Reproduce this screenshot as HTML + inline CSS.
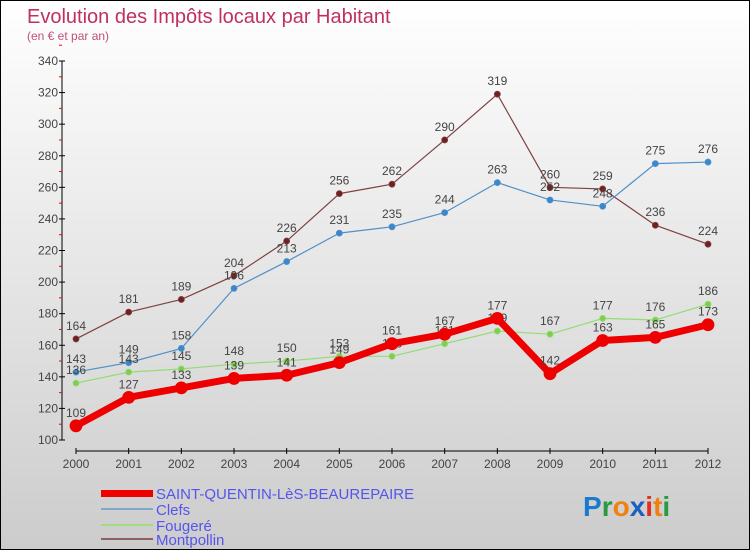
<!DOCTYPE html>
<html><head><meta charset="utf-8"><style>
body{margin:0}
#c{width:748px;height:548px;border:1px solid #000;background:linear-gradient(#fff,#ccc);position:relative;font-family:"Liberation Sans",sans-serif;overflow:hidden}
</style></head><body>
<div id="c">
<svg id="s" width="748" height="548" style="position:absolute;left:0;top:0">
<text x="26" y="22" font-size="20" fill="#c0305f">Evolution des Impôts locaux par Habitant</text>
<text x="26" y="39" font-size="12" fill="#c0507a">(en € et par an)</text>
<g id="axes"></g><g id="series"></g>
<g font-size="15" fill="#5555ee">
<rect x="100" y="489" width="52" height="7" fill="#ee0000"/>
<text x="155" y="498">SAINT-QUENTIN-LèS-BEAUREPAIRE</text>
<rect x="100" y="507" width="52" height="2" fill="#80a8cc"/>
<text x="155" y="514">Clefs</text>
<rect x="100" y="523" width="52" height="2" fill="#a0dd80"/>
<text x="155" y="530">Fougeré</text>
<rect x="100" y="537" width="52" height="2" fill="#906060"/>
<text x="155" y="544">Montpollin</text>
</g>
<text x="582" y="515" font-size="28" font-weight="bold"><tspan fill="#1a7ad0">P</tspan><tspan fill="#2a9a40">r</tspan><tspan fill="#f08010">o</tspan><tspan fill="#1a60c0">x</tspan><tspan fill="#e03020">i</tspan><tspan fill="#f08010">t</tspan><tspan fill="#2a9a40">i</tspan></text>
</svg></div>
<script>
const years=["2000","2001","2002","2003","2004","2005","2006","2007","2008","2009","2010","2011","2012"];
const yTicks=[100,120,140,160,180,200,220,240,260,280,300,320,340];
const sq=[109,127,133,139,141,149,161,167,177,142,163,165,173];
const clefs=[143,149,158,196,213,231,235,244,263,252,248,275,276];
const fougere=[136,143,145,148,150,153,153,161,169,167,177,176,186];
const montpollin=[164,181,189,204,226,256,262,290,319,260,259,236,224];
const NS="http://www.w3.org/2000/svg";
const xs=i=>75+i*(632/(years.length-1));
const ys=v=>439-(v-100)*(379/240);
function mk(t,a,p){const e=document.createElementNS(NS,t);for(const k in a)e.setAttribute(k,a[k]);p.appendChild(e);return e;}
const ax=document.getElementById('axes');
let yl=mk('line',{x1:61,y1:ys(340),x2:61,y2:ys(100),stroke:'#000'},ax);


yTicks.forEach(v=>{
 mk('line',{x1:58,x2:64,y1:ys(v),y2:ys(v),stroke:'#000'},ax);
 mk('line',{x1:58,x2:61,y1:ys(v+10),y2:ys(v+10),stroke:'#f00'},ax);
 const t=mk('text',{x:57,y:ys(v)+4,'text-anchor':'end','font-size':12,fill:'#444'},ax);t.textContent=v;
 
 
});
let xl=mk('line',{x1:75,y1:450,x2:707,y2:450,stroke:'#000'},ax);


years.forEach((y,i)=>{
 mk('line',{x1:xs(i),x2:xs(i),y1:447,y2:453,stroke:'#000'},ax);
 const t=mk('text',{x:xs(i),y:467,'text-anchor':'middle','font-size':12,fill:'#444'},ax);t.textContent=y;
 
 
});
const sg=document.getElementById('series');
function draw(data,name,color,w,r,dot){
 const g=mk('g',{},sg);
 
 
 const pl=mk('polyline',{points:data.map((v,i)=>xs(i)+','+ys(v)).join(' '),fill:'none',stroke:color,'stroke-width':w,'stroke-linejoin':'round'},g);
 
 
 data.forEach((v,i)=>{
  const c=mk('circle',{cx:xs(i),cy:ys(v),r:r,fill:dot,stroke:color,'stroke-width':0.8},g);
  
  
  const t=mk('text',{x:xs(i),y:ys(v)-9,'text-anchor':'middle','font-size':12,fill:'#444'},g);t.textContent=v;
  
  
 });
}
draw(montpollin,'montpollin','#804040',1.2,3,'#702020');
draw(clefs,'clefs','#5090c8',1.2,3,'#3a88cc');
draw(fougere,'fougere','#90dd70',1.2,3,'#80cc50');
draw(sq,'saint-quentin','#ee0000',7,6,'#ee0000');
</script>
</body></html>
